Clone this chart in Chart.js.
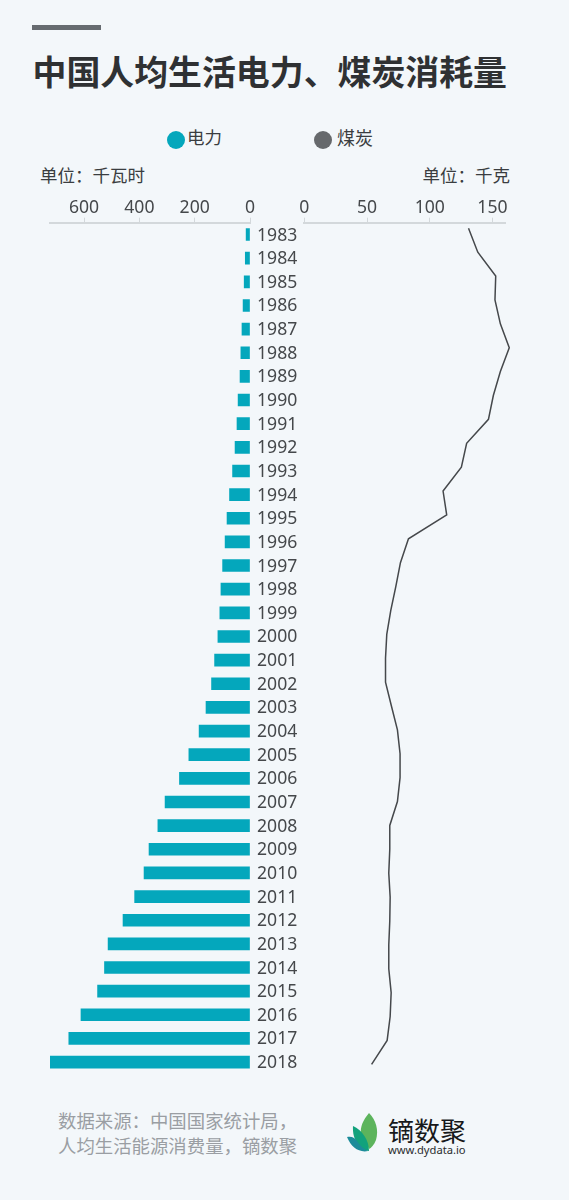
<!DOCTYPE html>
<html lang="zh">
<head>
<meta charset="utf-8">
<title>中国人均生活电力、煤炭消耗量</title>
<script src="https://cdn.jsdelivr.net/npm/chart.js@4"></script>
<style>
  html, body { margin: 0; padding: 0; background: #f3f7fa; }
  #page { position: relative; width: 569px; height: 1200px; overflow: hidden; background: #f3f7fa;
          font-family: "Noto Sans CJK SC", "Noto Sans", sans-serif; color: #3a3d40; }
  #page > * { position: absolute; }
  .txt { white-space: nowrap; line-height: 1; }
  #rule { left: 32px; top: 25px; width: 69px; height: 5px; background: #666b70; }
  #title { left: 32.5px; top: 53.5px; font-size: 33.9px; font-weight: 700; color: #2f3133; }
  .dot { width: 18px; height: 18px; border-radius: 50%; }
  .leg { font-size: 17.5px; top: 128px; }
  .unit { font-size: 17.5px; top: 166px; }
  #source { left: 58px; top: 1108px; font-size: 18.4px; line-height: 24.6px; color: #9a9ea3; white-space: nowrap; }
  #brand { left: 388px; top: 1117px; font-size: 26px; color: #17191b; letter-spacing: 0; }
  #site { left: 388px; top: 1144px; font-size: 11.2px; color: #2a2c2e; font-family: "Noto Sans", sans-serif; }
</style>
</head>
<body>
<div id="page">
  <div id="rule"></div>
  <div id="title" class="txt">中国人均生活电力、煤炭消耗量</div>

  <div class="dot" style="left:167px;top:131px;background:#04a7bc"></div>
  <div class="leg txt" style="left:187px">电力</div>
  <div class="dot" style="left:314px;top:131px;background:#66696c"></div>
  <div class="leg txt" style="left:337px;font-size:18px">煤炭</div>

  <div class="unit txt" style="left:40px">单位：千瓦时</div>
  <div class="unit txt" style="right:59px">单位：千克</div>

  <canvas id="left-chart" width="304" height="910" style="left:0;top:170px"></canvas>
  <canvas id="right-chart" width="289" height="910" style="left:280px;top:170px"></canvas>

  <div id="source">数据来源：中国国家统计局，<br>人均生活能源消费量，镝数聚</div>

  <svg style="left:345px;top:1110px" width="36" height="44" viewBox="0 0 36 44">
    <path d="M24 3 C31 10 34 20 31 30 C29 35 26 38 24 39 C27 28 25 14 24 3Z M24 3 C18 10 15 17 16 24 C19 28 22 33 24 39 C27 28 25 14 24 3Z" fill="#5cb45c"/>
    <path d="M8 16 C17 20 24 30 24 41 C15 40 7 30 8 16Z" fill="#12a27c"/>
    <path d="M2 27 C7 26 10 28 12 31 C15 36 19 39 23 41 C14 43 6 37 2 27Z" fill="#1c8c9a"/>
  </svg>
  <div id="brand" class="txt">镝数聚</div>
  <div id="site" class="txt">www.dydata.io</div>
</div>

<script>
var years = ['1983','1984','1985','1986','1987','1988','1989','1990','1991','1992','1993','1994',
    '1995','1996','1997','1998','1999','2000','2001','2002','2003','2004','2005','2006','2007',
    '2008','2009','2010','2011','2012','2013','2014','2015','2016','2017','2018'];

// 电力 kWh per person
var electricity = [14,17,21,25,29,33,36,43,47,54,63,74,83,90,99,105,109,116,128,139,159,184,221,
    255,307,333,365,383,417,459,513,526,551,611,655,723];

// 煤炭 kg per person
var coal = [130.9,138.3,152.6,152,156.3,163.4,156.3,150.7,146.8,129.4,125.2,110.6,113.5,83,76.6,
    72.9,68.9,65.7,64.7,64.7,69.4,74.2,76.3,76.3,74.2,68.1,68.1,67.3,68.4,68.1,67.3,67.3,69.2,
    68.4,66,53.6];

var axisColor = '#d3d8db';
var tickFont = { family: '"Noto Sans", sans-serif', size: 17.6 };
var tickColor = '#45484b';

// same top axis on both sides
function valueAxis(max, step, reverse) {
    return {
        type: 'linear',
        position: 'top',
        min: 0,
        max: max,
        reverse: reverse,
        grid: { drawOnChartArea: false, color: axisColor, tickLength: 5, tickWidth: 1 },
        border: { color: axisColor, width: 2 },
        ticks: { stepSize: step, includeBounds: false, autoSkip: false, maxRotation: 0, padding: -1, font: tickFont, color: tickColor },
        afterFit: function (scale) { scale.height = 30; }
    };
}

new Chart(document.getElementById('left-chart'), {
    type: 'bar',
    data: {
        labels: years,
        datasets: [{ label: '电力', data: electricity, backgroundColor: '#04a7bc', barThickness: 12 }]
    },
    options: {
        indexAxis: 'y',
        responsive: false,
        animation: false,
        layout: { padding: { left: 50, top: 22.7, bottom: 6.1, right: 0 } },
        plugins: { legend: { display: false }, tooltip: { enabled: false } },
        scales: {
            x: valueAxis(723, 200, true),
            y: {
                position: 'right',
                grid: { display: false, drawTicks: false },
                border: { display: false },
                ticks: { padding: 7, labelOffset: 1, font: tickFont, color: tickColor, autoSkip: false, crossAlign: 'near' },
                afterFit: function (scale) {
                    scale.width = 54;
                    scale.paddingTop = 0;
                    scale.paddingBottom = 0;
                }
            }
        }
    }
});

// the line runs on a slightly wider year spacing than the bars, hence the linear year scale
new Chart(document.getElementById('right-chart'), {
    type: 'line',
    data: {
        datasets: [{
            label: '煤炭',
            data: coal.map(function (v, i) { return { x: v, y: Number(years[i]) }; }),
            borderColor: '#45484b',
            borderWidth: 1.5,
            pointRadius: 0,
            tension: 0,
            clip: false,
            fill: false
        }]
    },
    options: {
        indexAxis: 'y',
        responsive: false,
        animation: false,
        layout: { padding: { left: 24.4, top: 22.7, bottom: 6.7, right: 64 } },
        plugins: { legend: { display: false }, tooltip: { enabled: false } },
        scales: {
            x: valueAxis(160, 50, false),
            y: { type: 'linear', display: false, reverse: true, min: 1982.766, max: 2018.377 }
        }
    }
});
</script>
</body>
</html>
